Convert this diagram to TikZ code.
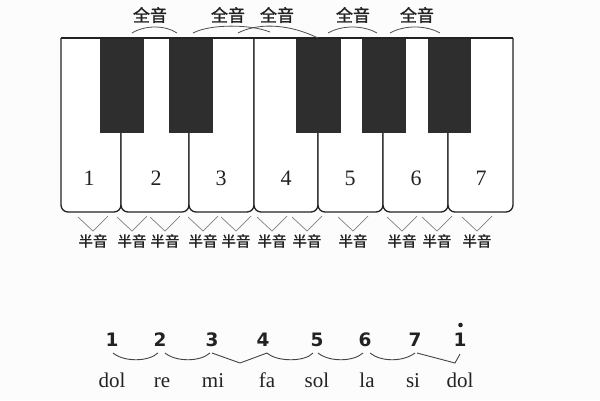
\documentclass[tikz,border=0pt]{standalone}
\usepackage{fontspec}
\setmainfont{Liberation Serif}
\newfontfamily\cjk{Noto Sans CJK SC}[FakeBold=1.2]
\newfontfamily\numsans{DejaVu Sans}
\usetikzlibrary{calc}
\definecolor{ink}{HTML}{222222}
\definecolor{blk}{HTML}{2E2E2E}
\definecolor{bg}{HTML}{FDFCFD}
\tikzset{
  whitekey/.style={draw=ink,line width=1.3pt,fill=white,rounded corners=7pt},
  blackkey/.style={fill=blk,draw=blk},
  keynum/.style={font=\fontsize{22}{22}\selectfont,inner sep=0pt,text=ink},
  whole/.style={font=\cjk\fontsize{17}{17}\selectfont,inner sep=0pt,text=ink},
  half/.style={font=\cjk\fontsize{14.5}{15}\selectfont,inner sep=0pt,text=ink},
  arcline/.style={draw=ink!80,line width=0.8pt},
  vmark/.style={draw=gray,line width=0.7pt},
  solfa/.style={font=\numsans\bfseries\fontsize{18.5}{19}\selectfont,inner sep=0pt,text=ink},
  syll/.style={font=\fontsize{21}{21}\selectfont,inner sep=0pt,text=ink},
  tie/.style={draw=ink!85,line width=0.9pt}
}
\begin{document}
\begin{tikzpicture}[x=1pt,y=-1pt]
\useasboundingbox (0,0) rectangle (600,400);
\fill[bg] (0,0) rectangle (600,400);
% white keys
\foreach \a/\b in {61/121,121/189,189/254,254/318,318/383,383/448,448/513}{
  \path[whitekey] (\a,38) -- (\a,212) -- (\b,212) -- (\b,38);
}
% black keys
\foreach \a/\b in {100/143,169/212,296/340,362/405,428/470}{
  \path[blackkey] (\a,38) rectangle (\b,132);
}
\draw[ink,line width=1.3pt] (61,38) -- (513,38);
% key numbers
\foreach \x/\n in {89/1,156/2,221/3,286/4,350/5,416/6,481/7}{
  \node[keynum] (k\n) at (\x,178) {\n};
}
% whole-tone labels and arcs
\node[whole] (w1) at (150,15) {全音};
\node[whole] (w2) at (228,15) {全音};
\node[whole] (w3) at (277,15) {全音};
\node[whole] (w4) at (353,15) {全音};
\node[whole] (w5) at (417,15) {全音};
\draw[arcline] (132,33) .. controls (145,25) and (165,25) .. (177,33);
\draw[arcline] (193,33) .. controls (210,24) and (250,24) .. (270,32);
\draw[arcline] (238,33) .. controls (255,24) and (285,22) .. (318,38);
\draw[arcline] (328,33) .. controls (342,25) and (363,25) .. (377,33);
\draw[arcline] (390,33) .. controls (404,25) and (426,25) .. (440,33);
% half-tone marks
\foreach \x [count=\i] in {93,132,165,203,236,272,307,353,402,437,477}{
  \node[half] (h\i) at (\x,241) {半音};
  \draw[vmark] ($(h\i)+(-15,-24)$) -- ($(h\i)+(0,-10)$) -- ($(h\i)+(15,-25)$);
}
% solfa numbers
\foreach \x/\n in {112/1,160/2,212/3,263/4,317/5,365/6,415/7,460/8}{
  \node[solfa] (s\n) at (\x,340) {\ifnum\n=8 1\else\n\fi};
}
\fill[ink] ($(s8)+(0.5,-15)$) circle (2.3);
% syllables
\foreach \x/\t [count=\i] in {112/dol,162/re,213/mi,267/fa,317/sol,367/la,413/si,460/dol}{
  \node[syll,anchor=base] (y\i) at (\x,387) {\t};
}
% ties
\draw[tie] ($(s1)+(1,13)$) .. controls ($(s1)+(12,22)$) and ($(s2)+(-12,22)$) .. ($(s2)+(-2,13)$);
\draw[tie] ($(s2)+(5,13)$) .. controls ($(s2)+(16,22)$) and ($(s3)+(-12,22)$) .. ($(s3)+(-2,13)$);
\draw[tie] ($(s3)+(0,13)$) -- ($(s3)+(28,23)$) -- ($(s4)+(4,13)$);
\draw[tie] ($(s4)+(4,13)$) .. controls ($(s4)+(14,22)$) and ($(s5)+(-12,22)$) .. ($(s5)+(-4,13)$);
\draw[tie] ($(s5)+(1,13)$) .. controls ($(s5)+(12,22)$) and ($(s6)+(-12,22)$) .. ($(s6)+(-2,13)$);
\draw[tie] ($(s6)+(5,13)$) .. controls ($(s6)+(16,22)$) and ($(s7)+(-12,22)$) .. ($(s7)+(0,13)$);
\draw[tie] ($(s7)+(2,13)$) -- ($(s8)+(-5,23)$) -- ($(s8)+(0,14)$);
\end{tikzpicture}
\end{document}
